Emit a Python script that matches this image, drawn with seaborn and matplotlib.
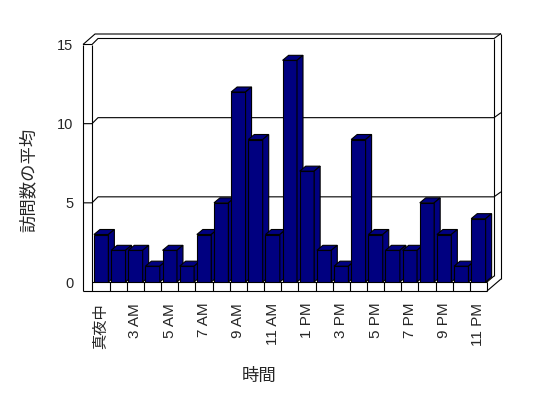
import numpy as np
import pandas as pd
import matplotlib
matplotlib.use("Agg")
import matplotlib.pyplot as plt
import seaborn as sns
from matplotlib.patches import Polygon

# ---- data ----
hours = ["真夜中", "1 AM", "3 AM", "4 AM", "5 AM", "6 AM", "7 AM", "8 AM", "9 AM",
         "10 AM", "11 AM", "正午", "1 PM", "2 PM", "3 PM", "4 PM", "5 PM", "6 PM",
         "7 PM", "8 PM", "9 PM", "10 PM", "11 PM"]
visits = [3, 2, 2, 1, 2, 1, 3, 5, 12, 9, 3, 14, 7, 2, 1, 9, 3, 2, 2, 5, 3, 1, 4]
y_ticks = [0, 5, 10, 15]
x_title = "時間"
y_title = "訪問数の平均"

NAVY = "#000080"
LW = 0.8

sns.set_theme(style="white")
plt.rcParams["font.family"] = ["Liberation Sans", "Noto Sans CJK JP", "DejaVu Sans"]

W, H = 548, 398
fig = plt.figure(figsize=(W / 100, H / 100), dpi=100)
fig.patch.set_facecolor("white")

# overlay in pixel coordinates for the 3-D box wireframe
ov = fig.add_axes([0, 0, 1, 1], zorder=0)
ov.set_xlim(0, W)
ov.set_ylim(0, H)
ov.axis("off")

ax = fig.add_axes([92.6 / W, (H - 282) / H, 394.4 / W, 237.5 / H], zorder=1)
ax.patch.set_visible(False)

df = pd.DataFrame({"hour": hours, "visits": visits})
sns.barplot(data=df, x="hour", y="visits", order=hours, color=NAVY, saturation=1,
            edgecolor="black", linewidth=LW, width=0.84, ax=ax)
ax.set_xlim(-0.5, 22.5)
ax.set_ylim(0, 15)
for s in ax.spines.values():
    s.set_visible(False)
ax.grid(False)

# 3-D top and side faces of the bars
dx = 6 / 17.15
dy = 5 / 15.83
bars = list(ax.patches)
for i, p in enumerate(bars):
    x0, w, h = p.get_x(), p.get_width(), p.get_height()
    x1 = x0 + w
    p.set_zorder(10 + 2 * i)
    top = Polygon([(x0, h), (x1, h), (x1 + dx, h + dy), (x0 + dx, h + dy)], closed=True,
                  fc=NAVY, ec="black", lw=LW, zorder=11 + 2 * i, clip_on=False)
    side = Polygon([(x1, 0), (x1 + dx, dy), (x1 + dx, h + dy), (x1, h)], closed=True,
                   fc=NAVY, ec="black", lw=LW, zorder=11 + 2 * i, clip_on=False)
    ax.add_patch(top)
    ax.add_patch(side)

# category cells below the floor
ax.vlines(np.arange(len(hours) - 1) + 0.5, ymin=-9 / 15.83, ymax=0, colors="black",
          lw=LW, clip_on=False)

# ticks and labels
ax.set_xticks(range(0, len(hours), 2))
ax.set_xticklabels(hours[::2], rotation=90, fontsize=11)
ax.tick_params(axis="x", length=0, pad=15)
ax.set_yticks(y_ticks)
ax.set_yticklabels([str(v) for v in y_ticks])
ax.tick_params(axis="y", length=0, pad=14, labelsize=10.5)
ax.set_ylabel(y_title, fontsize=12.5)
ax.yaxis.set_label_coords(-0.141, 0.43)
ax.set_xlabel(x_title, fontsize=12.5)
ax.xaxis.set_label_coords(0.422, -0.362)


def L(pts):
    ov.plot([q[0] for q in pts], [H - q[1] for q in pts], color="black", lw=LW,
            solid_capstyle="butt")


# wireframe of walls and floor
def yfront(v):
    return H - ax.transData.transform((0, v))[1]


for v in y_ticks[1:]:
    yf = yfront(v)
    L([(83, yf), (92, yf), (98, yf - 6), (494, yf - 6), (501, yf - 11)])

ytop = yfront(15)
L([(83, ytop), (83, 291)])
L([(92, ytop), (92, 291)])
L([(83, ytop), (95, ytop - 10.5), (501, ytop - 10.5)])
L([(494, ytop - 6), (494, 276)])
L([(501, ytop - 11), (501, 279)])
# floor
L([(92, 282), (487, 282)])
L([(83, 291), (487, 291)])
L([(487, 282), (487, 291)])
L([(487, 291), (501, 279)])
L([(487, 282), (494, 276)])

fig.savefig("out.png", dpi=100, facecolor="white")
